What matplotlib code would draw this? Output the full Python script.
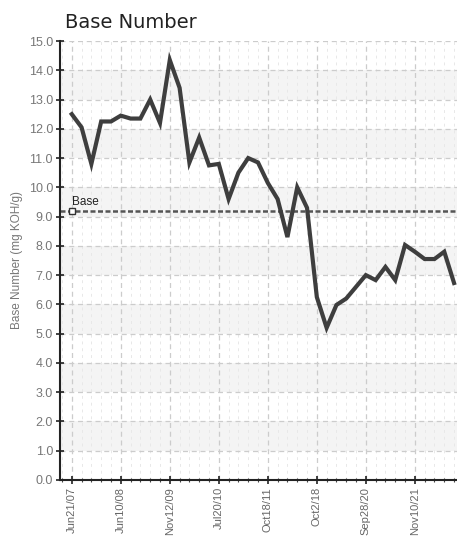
import matplotlib.pyplot as plt
from matplotlib.ticker import MultipleLocator

# Base number readings, one per sample (index based x axis)
base_values = [12.5, 12.05, 10.8, 12.25, 12.25, 12.45, 12.35, 12.35, 13.0, 12.2,
               14.35, 13.4, 10.85, 11.7, 10.75, 10.8, 9.6, 10.5, 11.0, 10.85,
               10.15, 9.6, 8.3, 10.0, 9.3, 6.25, 5.2, 5.98, 6.2, 6.6,
               7.0, 6.83, 7.28, 6.83, 8.03, 7.8, 7.55, 7.55, 7.8, 6.73]
tick_labels = ['Jun21/07', 'Jun10/08', 'Nov12/09', 'Jul20/10',
               'Oct18/11', 'Oct2/18', 'Sep28/20', 'Nov10/21']
tick_every = 5
base_level = 9.2

narrow = ['Liberation Sans', 'DejaVu Sans']

fig = plt.figure(figsize=(4.57, 5.41), dpi=100)
ax = fig.add_axes([0.1313, 0.1128, 0.8687, 0.8114])

x = list(range(len(base_values)))

# alternating light bands
for lo in range(1, 15, 2):
    ax.axhspan(lo, lo + 1, color='#f4f4f4', zorder=0, lw=0)

ax.plot(x, base_values, color='#3e3e3e', lw=3, zorder=3, solid_joinstyle='miter')

# base reference line
ax.axhline(base_level, xmin=0, xmax=1, color='#555555', lw=1.8, ls=(0, (2, 1)), zorder=2)
ax.plot([0], [base_level], marker='s', ms=4, mfc='white', mec='#333333', mew=1, zorder=4)
ax.text(0, base_level + 0.2, 'Base', fontsize=8.5, color='#222222', family=narrow)

ax.set_xlim(-1.2, 39.3)
ax.set_ylim(0, 15)
ax.set_xticks(x[::tick_every])
ax.set_xticklabels(tick_labels, rotation=90, family=narrow, fontsize=8, color='#666666')
ax.xaxis.set_minor_locator(MultipleLocator(1))
ax.yaxis.set_major_locator(MultipleLocator(1))
ax.set_yticklabels([f'{v:.1f}' for v in ax.get_yticks()], family=narrow,
                   fontsize=9, color='#777777')

ax.grid(which='major', color='#cccccc', ls=(0, (4, 3)), lw=0.9)
ax.grid(which='minor', axis='x', color='#e8e8e8', ls=(0, (3, 4)), lw=0.7)
ax.set_axisbelow(True)

ax.tick_params(which='major', direction='inout', length=6, width=1.2, color='#222222', pad=2)
ax.tick_params(which='minor', direction='inout', length=3, width=0.8, color='#444444')

for s in ['top', 'right']:
    ax.spines[s].set_visible(False)
for s in ['left', 'bottom']:
    ax.spines[s].set_color('#222222')
    ax.spines[s].set_linewidth(1.5)

ax.set_ylabel('Base Number (mg KOH/g)', family=narrow, fontsize=8.5, color='#777777', labelpad=4)
fig.text(0.142, 0.948, 'Base Number', fontsize=14, color='#222222')

fig.savefig('out.png', dpi=100)
